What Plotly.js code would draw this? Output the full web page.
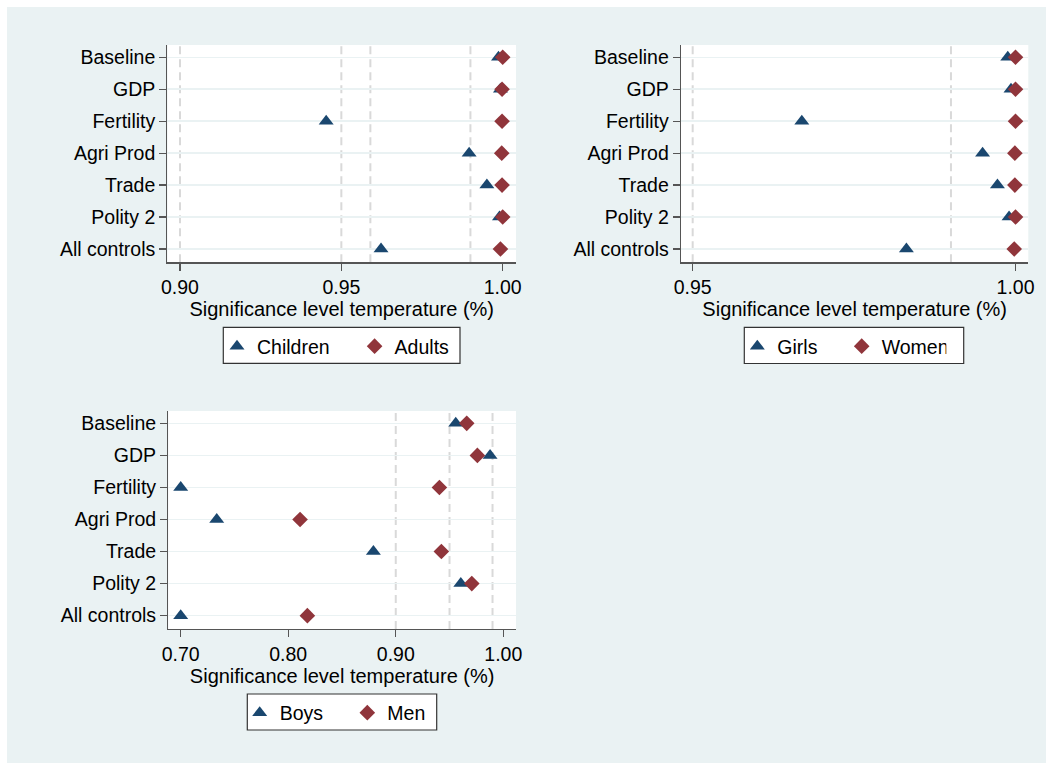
<!DOCTYPE html>
<html>
<head>
<meta charset="utf-8">
<script src="https://cdn.plot.ly/plotly-3.0.1.min.js"></script>
<style>
  html, body { margin: 0; padding: 0; background: #ffffff; }
  #chart { position: absolute; left: 7px; top: 7px; width: 1039px; height: 756px; }
</style>
</head>
<body>
<div id="chart"></div>
<script>
// ---- data ----
const categories = ['Baseline', 'GDP', 'Fertility', 'Agri Prod', 'Trade', 'Polity 2', 'All controls'];
const children = [0.9987, 0.9993, 0.9453, 0.9896, 0.9951, 0.9990, 0.9623];
const adults   = [1.0000, 0.9998, 0.9998, 0.9997, 0.9998, 1.0000, 0.9993];
const girls    = [0.9988, 0.9993, 0.9669, 0.9949, 0.9972, 0.9990, 0.9831];
const women    = [1.0000, 1.0000, 1.0000, 0.9999, 0.9999, 1.0000, 0.9998];
const boys     = [0.9558, 0.9877, 0.7000, 0.7335, 0.8792, 0.9605, 0.7000];
const men      = [0.9660, 0.9759, 0.9406, 0.8110, 0.9424, 0.9707, 0.8178];
const refLines1 = [0.90, 0.95, 0.959, 0.99];
const refLines2 = [0.95, 0.99];
const refLines3 = [0.90, 0.95, 0.99];
const ticks1 = [0.90, 0.95, 1.00];
const ticks2 = [0.95, 1.00];
const ticks3 = [0.70, 0.80, 0.90, 1.00];
const xTitle = 'Significance level temperature (%)';

// ---- styles ----
const NAVY = '#1a476f', MAROON = '#90353b', BG = '#eaf2f3';
const FONT = 'Liberation Sans, Arial, Helvetica, sans-serif';
const FS = 19.5;
const W = 1039, H = 756, OFF = 7;
const px = v => (v - OFF) / W;
const py = v => 1 - (v - OFF) / H;

function tri(x, name, xa, ya, leg) {
  return {type: 'scatter', mode: 'markers', x: x, y: categories, name: name,
    xaxis: xa, yaxis: ya, legend: leg, cliponaxis: false,
    marker: {symbol: 'triangle-up', size: 13, color: NAVY, line: {width: 0}}};
}
function dia(x, name, xa, ya, leg) {
  return {type: 'scatter', mode: 'markers', x: x, y: categories, name: name,
    xaxis: xa, yaxis: ya, legend: leg, cliponaxis: false,
    marker: {symbol: 'diamond', size: 12, color: MAROON, line: {width: 0}}};
}

const data = [
  tri(children, 'Children', 'x', 'y', 'legend'),
  dia(adults, 'Adults', 'x', 'y', 'legend'),
  tri(girls, 'Girls', 'x2', 'y2', 'legend2'),
  dia(women, 'Women', 'x2', 'y2', 'legend2'),
  tri(boys, 'Boys', 'x3', 'y3', 'legend3'),
  dia(men, 'Men', 'x3', 'y3', 'legend3')
];

function xax(domain, range, ticks, anchor) {
  return {domain: domain, range: range, anchor: anchor,
    tickvals: ticks, ticktext: ticks.map(v => v.toFixed(2)),
    ticks: 'outside', ticklen: 7, tickwidth: 1.3, tickcolor: '#555',
    showline: true, linecolor: '#555', linewidth: 1.3,
    showgrid: false, zeroline: false,
    tickfont: {size: FS, color: '#000', family: FONT},
    title: {text: xTitle, font: {size: 20, color: '#000', family: FONT}, standoff: 0}};
}
function yax(domain, anchor) {
  return {domain: domain, anchor: anchor, type: 'category', categoryorder: 'array',
    categoryarray: categories, range: [6.416, -0.385],
    ticks: 'outside', ticklen: 7, tickwidth: 1.3, tickcolor: '#555',
    showline: true, linecolor: '#555', linewidth: 1.3,
    showgrid: true, gridcolor: BG, gridwidth: 1.5, zeroline: false,
    tickfont: {size: FS, color: '#000', family: FONT}};
}

const shapes = [];
function addLines(vals, xr, yr) {
  vals.forEach(v => shapes.push({type: 'line', xref: xr, yref: yr + ' domain',
    x0: v, x1: v, y0: 0, y1: 1, layer: 'below',
    line: {color: '#d9d9d9', width: 2, dash: '8px,5px'}}));
}
addLines(refLines1, 'x', 'y');
addLines(refLines2, 'x2', 'y2');
addLines(refLines3, 'x3', 'y3');

// legend frames (pixel positions of the reference boxes)
function addBox(l, r, t, b) {
  shapes.push({type: 'rect', xref: 'paper', yref: 'paper', layer: 'below',
    x0: px(l), x1: px(r), y0: py(b), y1: py(t),
    fillcolor: '#ffffff', line: {color: '#333', width: 1.2}});
}
addBox(223.3, 460, 327.3, 363.3);
addBox(744.3, 963.7, 327.3, 363.5);
addBox(247.3, 436.7, 694, 730);

function leg(x, y, ew) {
  return {x: x, y: y, xanchor: 'left', yanchor: 'top', orientation: 'h',
    bgcolor: 'rgba(0,0,0,0)', borderwidth: 0, entrywidth: ew, entrywidthmode: 'pixels',
    font: {size: FS, color: '#000', family: FONT}};
}

const layout = {
  width: W, height: H,
  margin: {l: 0, r: 0, t: 0, b: 0},
  paper_bgcolor: BG, plot_bgcolor: '#ffffff',
  font: {family: FONT, size: FS, color: '#000'},
  showlegend: true,
  xaxis: xax([0.15447, 0.48989], [0.89613, 1.00412], ticks1, 'y'),
  yaxis: yax([0.66230, 0.94974], 'x'),
  xaxis2: xax([0.64870, 0.98297], [0.94819, 1.00198], ticks2, 'y2'),
  yaxis2: yax([0.66230, 0.94974], 'x2'),
  xaxis3: xax([0.15525, 0.48989], [0.68847, 1.01182], ticks3, 'y3'),
  yaxis3: yax([0.17725, 0.46561], 'x3'),
  legend: leg(px(217), py(327), 92.6),
  legend2: leg(px(737.3), py(327), 59.4),
  legend3: leg(px(239.7), py(693.5), 62.6),
  shapes: shapes
};

Plotly.newPlot('chart', data, layout, {displayModeBar: false, staticPlot: true});
</script>
</body>
</html>
